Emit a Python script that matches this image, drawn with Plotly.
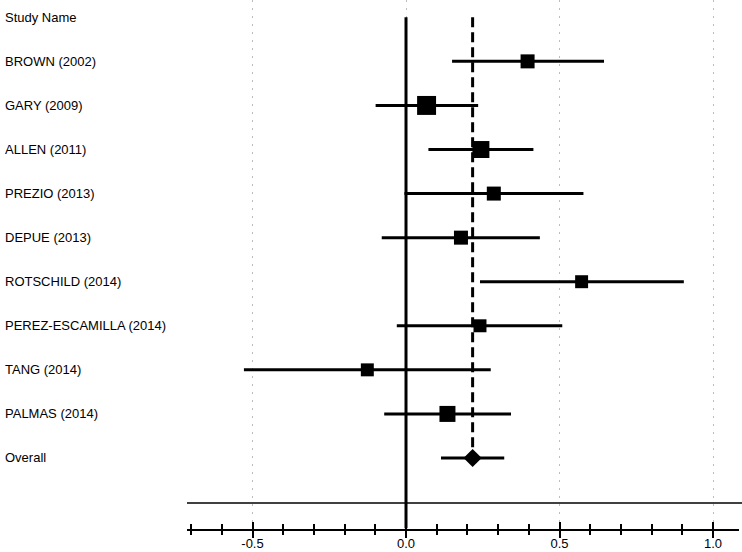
import plotly.graph_objects as go

# ---- data ----
studies = ["BROWN (2002)", "GARY (2009)", "ALLEN (2011)", "PREZIO (2013)", "DEPUE (2013)",
           "ROTSCHILD (2014)", "PEREZ-ESCAMILLA (2014)", "TANG (2014)", "PALMAS (2014)"]
effect = [0.396, 0.067, 0.244, 0.286, 0.179, 0.572, 0.241, -0.126, 0.135]
ci_low = [0.150, -0.099, 0.073, -0.005, -0.079, 0.241, -0.030, -0.528, -0.071]
ci_high = [0.645, 0.235, 0.415, 0.578, 0.436, 0.905, 0.509, 0.276, 0.342]
weights = [9.8, 18.0, 14.4, 9.8, 9.8, 8.4, 8.4, 8.4, 12.8]  # relative weight (%)

overall_label = "Overall"
overall_effect = 0.217
overall_low = 0.114
overall_high = 0.320

header = "Study Name"
tick_vals = [-0.5, 0.0, 0.5, 1.0]
tick_text = ["-0.5", "0.0", "0.5", "1.0"]

# ---- layout helpers ----
W, H = 742, 552
FONT = "Liberation Sans, Arial, sans-serif"
rows = list(range(1, len(studies) + 1))
overall_row = len(studies) + 1

fig = go.Figure()

# zero line (solid) and overall effect line (dashed)
fig.add_trace(go.Scatter(x=[0, 0], y=[0, 11.6], mode="lines",
                         line=dict(color="black", width=3), hoverinfo="skip", showlegend=False))
fig.add_trace(go.Scatter(x=[overall_effect, overall_effect], y=[0, overall_row], mode="lines",
                         line=dict(color="black", width=3, dash="10px,5px"),
                         hoverinfo="skip", showlegend=False))

# study estimates with CIs
sizes = [4.47 * (w ** 0.5) for w in weights]
fig.add_trace(go.Scatter(
    x=effect, y=rows, mode="markers",
    marker=dict(symbol="square", size=sizes, color="black", opacity=1, line=dict(width=0)),
    error_x=dict(type="data", symmetric=False,
                 array=[h - e for h, e in zip(ci_high, effect)],
                 arrayminus=[e - l for e, l in zip(effect, ci_low)],
                 thickness=3, width=0, color="black"),
    showlegend=False))

# overall diamond
fig.add_trace(go.Scatter(
    x=[overall_effect], y=[overall_row], mode="markers",
    marker=dict(symbol="diamond", size=14, color="black", opacity=1, line=dict(width=0)),
    error_x=dict(type="data", symmetric=False,
                 array=[overall_high - overall_effect],
                 arrayminus=[overall_effect - overall_low],
                 thickness=3, width=0, color="black"),
    showlegend=False))

# invisible trace to activate the overlay axis (inner tick halves)
fig.add_trace(go.Scatter(x=[0], y=[0], xaxis="x2", yaxis="y", mode="markers",
                         marker=dict(opacity=0), hoverinfo="skip", showlegend=False))

# text labels
lab_x = 3 / W
annotations = [dict(text=header, x=lab_x, xref="paper", y=0, yref="y",
                    xanchor="left", yanchor="middle", showarrow=False,
                    font=dict(family=FONT, size=13, color="black"))]
for r, s in zip(rows, studies):
    annotations.append(dict(text=s, x=lab_x, xref="paper", y=r, yref="y",
                            xanchor="left", yanchor="middle", showarrow=False,
                            font=dict(family=FONT, size=13, color="black")))
annotations.append(dict(text=overall_label, x=lab_x, xref="paper", y=overall_row, yref="y",
                        xanchor="left", yanchor="middle", showarrow=False,
                        font=dict(family=FONT, size=13, color="black")))

x_dom = [187 / W, 739 / W]
x_rng = [-0.7134, 1.0847]

fig.update_layout(
    width=W, height=H,
    margin=dict(l=0, r=0, t=0, b=0),
    paper_bgcolor="white", plot_bgcolor="white",
    annotations=annotations,
    shapes=[dict(type="line", xref="paper", yref="y", x0=187 / W, x1=1,
                 y0=11.02, y1=11.02, line=dict(color="black", width=1.5))],
    xaxis=dict(domain=x_dom, range=x_rng, anchor="y",
               tickmode="array", tickvals=tick_vals, ticktext=tick_text,
               ticks="outside", ticklen=7, tickwidth=1.5, tickcolor="black",
               minor=dict(dtick=0.1, tick0=0, ticks="outside", ticklen=4.5,
                          tickwidth=1.5, tickcolor="black", showgrid=False),
               showline=True, linecolor="black", linewidth=2,
               showgrid=True, gridcolor="#bdbdbd", gridwidth=1, griddash="2px,6px",
               zeroline=False, automargin=False, ticklabelstandoff=-5,
               tickfont=dict(family=FONT, size=13, color="black")),
    xaxis2=dict(domain=x_dom, range=x_rng, overlaying="x", matches="x", anchor="y",
                tickmode="array", tickvals=tick_vals,
                ticks="inside", ticklen=7, tickwidth=1.5, tickcolor="black",
                minor=dict(dtick=0.1, tick0=0, ticks="inside", ticklen=4.5,
                           tickwidth=1.5, tickcolor="black", showgrid=False),
                showticklabels=False, showline=False, showgrid=False, zeroline=False),
    yaxis=dict(domain=[23.5 / H, 1], range=[11.6, -0.3926], visible=False,
               showgrid=False, zeroline=False),
)

fig.write_html("out.html", config={"displayModeBar": False},
               post_script="document.body.style.margin='0';document.body.style.padding='0';")
